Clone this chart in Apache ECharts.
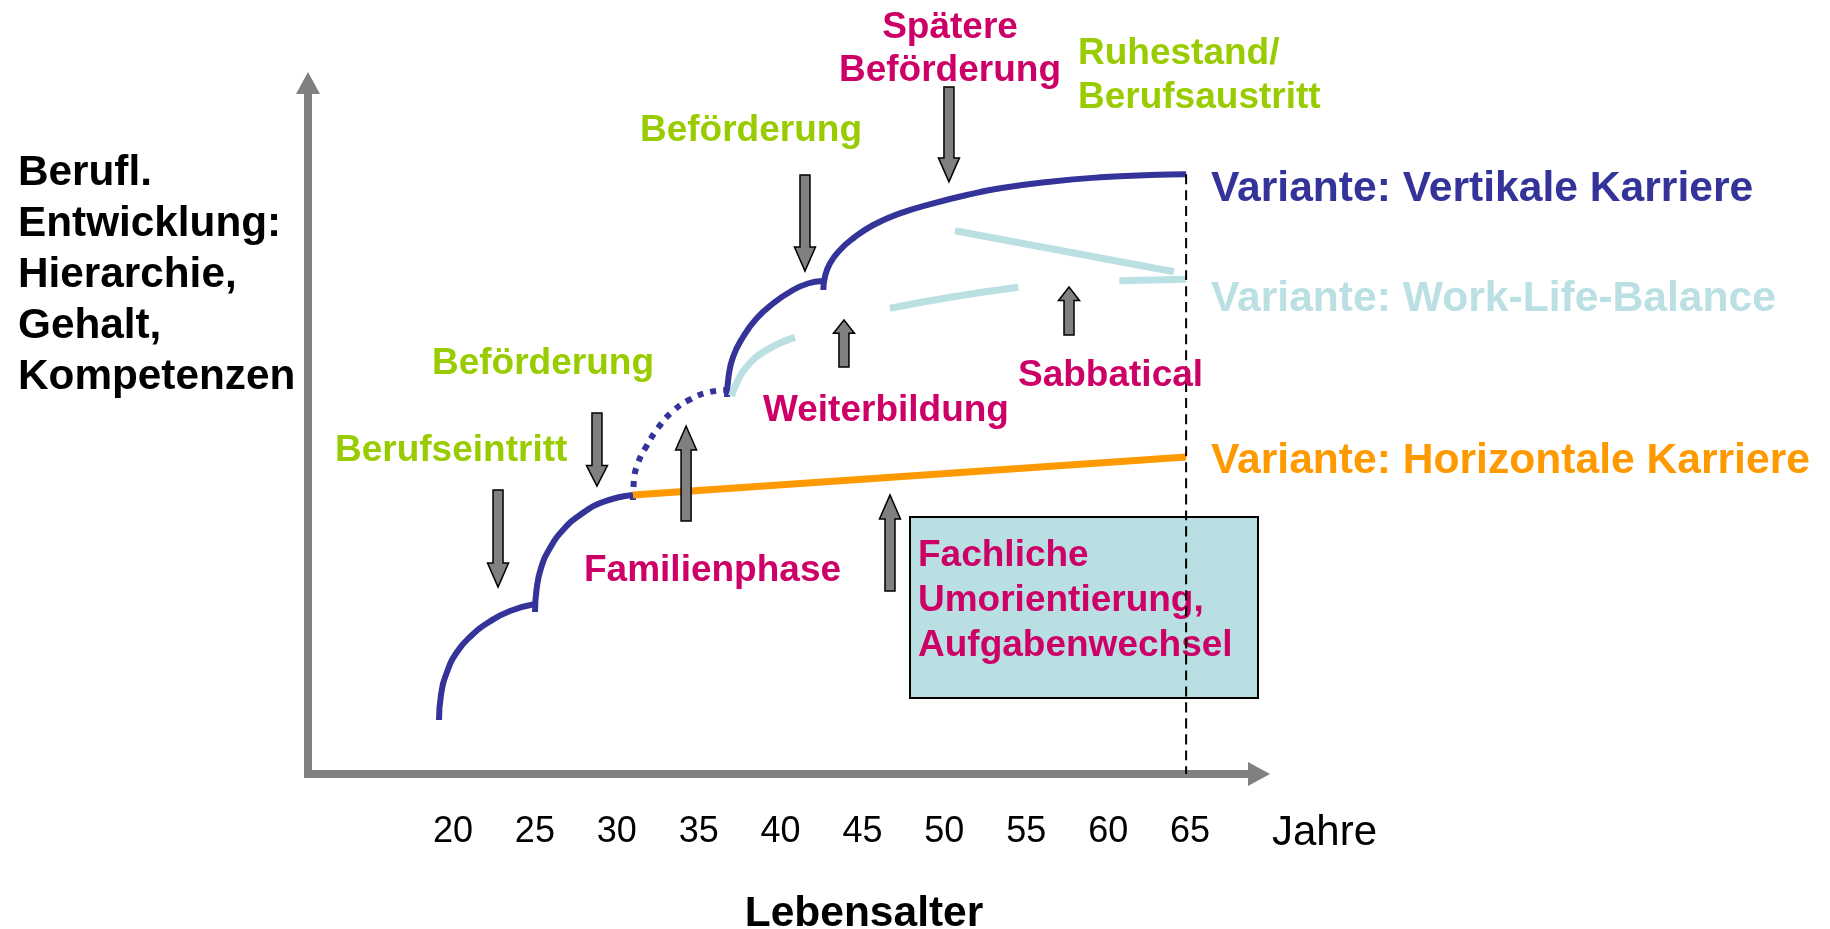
<!DOCTYPE html>
<html>
<head>
<meta charset="utf-8">
<script src="https://cdn.jsdelivr.net/npm/echarts@6/dist/echarts.min.js"></script>
<style>
html,body{margin:0;padding:0;background:#fff;}
#chart{width:1830px;height:929px;}
</style>
</head>
<body>
<div id="chart"></div>
<script>
// ---------- data (age in years, y = level of career development 0..100) ----------
const xTicks = [20, 25, 30, 35, 40, 45, 50, 55, 60, 65];

const vertArc1 = [[19.145,7.815],[19.267,11.433],[19.634,14.761],[20.244,17.656],[21.099,19.971],[22.198,21.997],[23.48,23.589],[25.007,24.602]];
const vertArc2 = [[25.007,23.444],[25.098,26.628],[25.373,29.812],[25.923,32.706],[26.716,35.311],[27.754,37.482],[29.159,39.363],[30.99,40.376]];
const vertArc3Dotted = [[30.99,39.653],[31.05,42.547],[31.295,45.007],[31.783,47.323],[32.516,50.072],[33.371,52.388],[34.409,54.124],[35.691,55.282],[36.729,55.572]];
const vertArc4 = [[36.73,54.559],[36.821,57.453],[37.096,60.347],[37.707,63.242],[38.531,65.919],[39.538,68.09],[40.759,70.043],[41.675,70.984],[42.53,71.346]];
const vertArc5 = [[42.61,70.04],[42.71,71.97],[43.02,73.91],[43.63,75.83],[44.44,77.53],[45.66,79.45],[47.29,81.14],[49.33,82.59],[51.37,83.79],[53.4,84.76],[56.45,85.72],[59.51,86.35],[62.56,86.69],[64.76,86.79]];
const horizontal = [[30.99,40.38],[64.76,45.88]];
const wlbPiece1 = [[37.01,54.7],[37.31,56.54],[37.93,58.94],[39.15,61.36],[40.88,63.2]];
const wlbPiece2 = [[46.68,67.4],[50.55,69.07],[54.52,70.43]];
const wlbPiece3 = [[60.68,71.39],[64.76,71.59]];
const wlbDecline = [[50.65,78.62],[64.02,72.69]];
const retirement = [[64.76,86.79],[64.76,0]];
// arrows: [age, tail level, tip level]
const eventArrows = [[22.75,41.1,27.06],[28.79,52.24,41.68],[34.23,36.61,50.36],[41.49,86.69,72.79],[43.87,58.9,65.7],[50.28,99.42,85.69],[57.61,63.53,70.48],[46.68,26.48,40.38]];

// ---------- texts ----------
const yTitle = 'Berufl.\nEntwicklung:\nHierarchie,\nGehalt,\nKompetenzen';
const xName = 'Lebensalter';
const xUnit = 'Jahre';
const variantTexts = ['Variante: Vertikale Karriere', 'Variante: Work-Life-Balance', 'Variante: Horizontale Karriere'];

const FONT = '"Liberation Sans", Arial, sans-serif';
const BLUE = '#333399', LBLUE = '#BBE0E3', ORANGE = '#FF9900', MAG = '#CC0066', GREEN = '#99CC00', GRAY = '#808080';

function txt(text, x, y, color, size, opts) {
  opts = opts || {};
  return {
    type: 'text', x: x, y: y, z: opts.z || 50,
    style: {
      text: text, fill: color, fontFamily: FONT, fontSize: size,
      fontWeight: opts.weight || 'bold',
      align: opts.align || 'left', verticalAlign: opts.va || 'middle',
      lineHeight: opts.lh || size
    }
  };
}

function lineSeries(data, color, width, type, z) {
  return {
    type: 'line', data: data, smooth: true, symbol: 'none', silent: true,
    z: z || 3,
    lineStyle: { color: color, width: width, type: type || 'solid', cap: 'butt' }
  };
}

const chart = echarts.init(document.getElementById('chart'), null, { renderer: 'canvas' });

const option = {
  animation: false,
  backgroundColor: '#ffffff',
  grid: { left: 308, right: 571, top: 83, bottom: 155, containLabel: false },
  xAxis: {
    type: 'value', min: 11.147, max: 69.21,
    axisLine: { onZero: false, symbol: ['none', 'triangle'], symbolSize: [24, 22],
      lineStyle: { color: GRAY, width: 8, cap: 'square' } },
    axisTick: { show: false },
    splitLine: { show: false },
    axisLabel: { customValues: xTicks, color: '#000', fontFamily: FONT, fontSize: 36, margin: 40 }
  },
  yAxis: {
    type: 'value', min: 0, max: 100,
    axisLine: { show: true, onZero: false, symbol: ['none', 'triangle'], symbolSize: [24, 22],
      lineStyle: { color: GRAY, width: 8, cap: 'square' } },
    axisTick: { show: false },
    splitLine: { show: false },
    axisLabel: { show: false }
  },
  series: [
    lineSeries(vertArc1, BLUE, 6),
    lineSeries(vertArc2, BLUE, 6),
    lineSeries(vertArc3Dotted, BLUE, 6, [6, 7]),
    lineSeries(vertArc4, BLUE, 6),
    lineSeries(vertArc5, BLUE, 6),
    lineSeries(horizontal, ORANGE, 7, 'solid', 4),
    lineSeries(wlbPiece1, LBLUE, 7),
    lineSeries(wlbPiece2, LBLUE, 7),
    lineSeries(wlbPiece3, LBLUE, 7),
    lineSeries(wlbDecline, LBLUE, 7),
    lineSeries(retirement, '#000000', 2, [10, 6], 8),
    {
      type: 'custom', silent: true, z: 6, clip: false,
      data: eventArrows,
      encode: { x: 0, y: [1, 2] },
      renderItem: function (params, api) {
        const tail = api.coord([api.value(0), api.value(1)]);
        const tip = api.coord([api.value(0), api.value(2)]);
        const dir = tip[1] < tail[1] ? -1 : 1;
        const len = Math.abs(tip[1] - tail[1]);
        const head = Math.min(24, len * 0.28);
        const sw = 5, hw = 10.5;
        const x = tip[0];
        const baseY = tip[1] - dir * head;
        return {
          type: 'polygon',
          shape: { points: [[x - sw, tail[1]], [x - sw, baseY], [x - hw, baseY], [x, tip[1]], [x + hw, baseY], [x + sw, baseY], [x + sw, tail[1]]] },
          style: { fill: GRAY, stroke: '#000', lineWidth: 1.5 }
        };
      }
    }
  ],
  graphic: [
    { type: 'rect', z: 1, shape: { x: 910, y: 517, width: 348, height: 181 },
      style: { fill: '#B9DFE2', stroke: '#000', lineWidth: 2 } },
    txt('Fachliche\nUmorientierung,\nAufgabenwechsel', 918, 533, MAG, 37, { va: 'top', lh: 45, z: 2 }),
    txt(yTitle, 18, 148, '#000', 42.3, { va: 'top', lh: 51 }),
    txt('Spätere\nBeförderung', 950, 6, MAG, 37, { va: 'top', lh: 43, align: 'center' }),
    txt('Ruhestand/\nBerufsaustritt', 1078, 31.5, GREEN, 37, { va: 'top', lh: 44 }),
    txt('Beförderung', 640, 130.5, GREEN, 37),
    txt('Beförderung', 432, 363.5, GREEN, 37),
    txt('Berufseintritt', 335, 450.5, GREEN, 37),
    txt('Familienphase', 584, 570.5, MAG, 37),
    txt('Weiterbildung', 763, 410.5, MAG, 37),
    txt('Sabbatical', 1018, 375.5, MAG, 37),
    txt(variantTexts[0], 1211, 189.4, BLUE, 42.6),
    txt(variantTexts[1], 1211, 299.4, LBLUE, 42.6),
    txt(variantTexts[2], 1211, 461.4, ORANGE, 42.6),
    txt(xUnit, 1272, 833, '#000', 42, { weight: 'normal' }),
    txt(xName, 864, 914, '#000', 42.5, { align: 'center' })
  ]
};

chart.setOption(option);
</script>
</body>
</html>
